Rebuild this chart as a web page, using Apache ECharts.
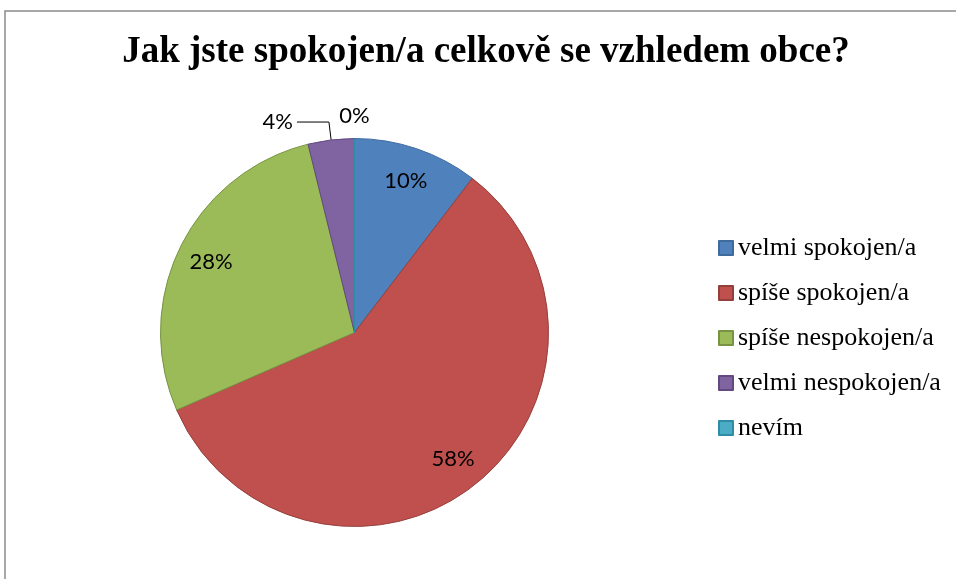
<!DOCTYPE html>
<html>
<head>
<meta charset="utf-8">
<script src="https://cdn.jsdelivr.net/npm/echarts@6/dist/echarts.min.js"></script>
<style>
html,body{margin:0;padding:0;background:#fff;}
#chart{width:956px;height:579px;}
</style>
</head>
<body>
<div id="chart"></div>
<script>
const titleText = 'Jak jste spokojen/a celkově se vzhledem obce?';
const categories = ['velmi spokojen/a', 'spíše spokojen/a', 'spíše nespokojen/a', 'velmi nespokojen/a', 'nevím'];
const values = [27, 151, 72, 10, 0];
const colors = ['#4F81BD', '#C0504D', '#9BBB59', '#8064A2', '#4BACC6'];
const borderColors = ['#3E6A9E', '#943F3C', '#779343', '#62497F', '#2E8CA6'];
// label placement per category: 'inner' = inside slice, 'leader' = outside with line, 'top' = just outside
const labelPlacement = ['inner', 'inner', 'inner', 'leader', 'top'];

const CX = 354.5, CY = 332.5, R = 194;
const fmt = p => Math.round(p.percent) + '%';
const labelFont = { fontFamily: 'Lato', fontSize: 22, color: '#000' };

function buildData(mode) {
  return categories.map((name, i) => {
    const item = { name, value: values[i] };
    if (mode === 'main') {
      item.itemStyle = { color: colors[i], borderColor: borderColors[i], borderWidth: 1 };
      item.label = { show: labelPlacement[i] === 'leader' };
      item.labelLine = { show: labelPlacement[i] === 'leader' };
    } else {
      item.label = { show: labelPlacement[i] === mode };
    }
    return item;
  });
}

const overlayBase = {
  type: 'pie',
  center: [CX, CY],
  startAngle: 90,
  clockwise: true,
  silent: true,
  legendHoverLink: false,
  animation: false,
  itemStyle: { color: 'transparent', borderWidth: 0 },
  labelLine: { show: false },
  emphasis: { disabled: true },
  tooltip: { show: false }
};

const chart = echarts.init(document.getElementById('chart'));
chart.setOption({
  animation: false,
  graphic: [{
    type: 'rect',
    shape: { x: 5, y: 11, width: 1200, height: 1000 },
    style: { fill: 'none', stroke: '#8a8a8a', lineWidth: 1.5 },
    silent: true
  }],
  title: {
    text: titleText,
    left: 486,
    top: 34,
    textAlign: 'center',
    padding: 0,
    textStyle: { fontFamily: 'Liberation Serif', fontWeight: 'bold', fontSize: 37, color: '#000' }
  },
  legend: {
    orient: 'vertical',
    left: 713,
    top: 230,
    itemWidth: 14,
    itemHeight: 14,
    itemGap: 19,
    icon: 'rect',
    data: categories,
    textStyle: { fontFamily: 'Liberation Serif', fontSize: 26, color: '#000', lineHeight: 26 }
  },
  series: [
    {
      type: 'pie',
      name: 'main',
      center: [CX, CY],
      radius: R,
      startAngle: 90,
      clockwise: true,
      avoidLabelOverlap: false,
      data: buildData('main'),
      label: Object.assign({ position: 'outside', formatter: fmt, distanceToLabelLine: 4 }, labelFont),
      labelLine: { length: 18, length2: 32, smooth: false, lineStyle: { color: '#000', width: 1 } },
      emphasis: { scale: false }
    },
    Object.assign({}, overlayBase, {
      name: 'innerLabels',
      radius: [120, R],
      data: buildData('inner'),
      label: Object.assign({ position: 'inside', formatter: fmt }, labelFont)
    }),
    Object.assign({}, overlayBase, {
      name: 'topLabels',
      radius: [R, R + 40],
      data: buildData('top'),
      label: Object.assign({ position: 'inside', formatter: fmt }, labelFont)
    })
  ]
});
</script>
</body>
</html>
